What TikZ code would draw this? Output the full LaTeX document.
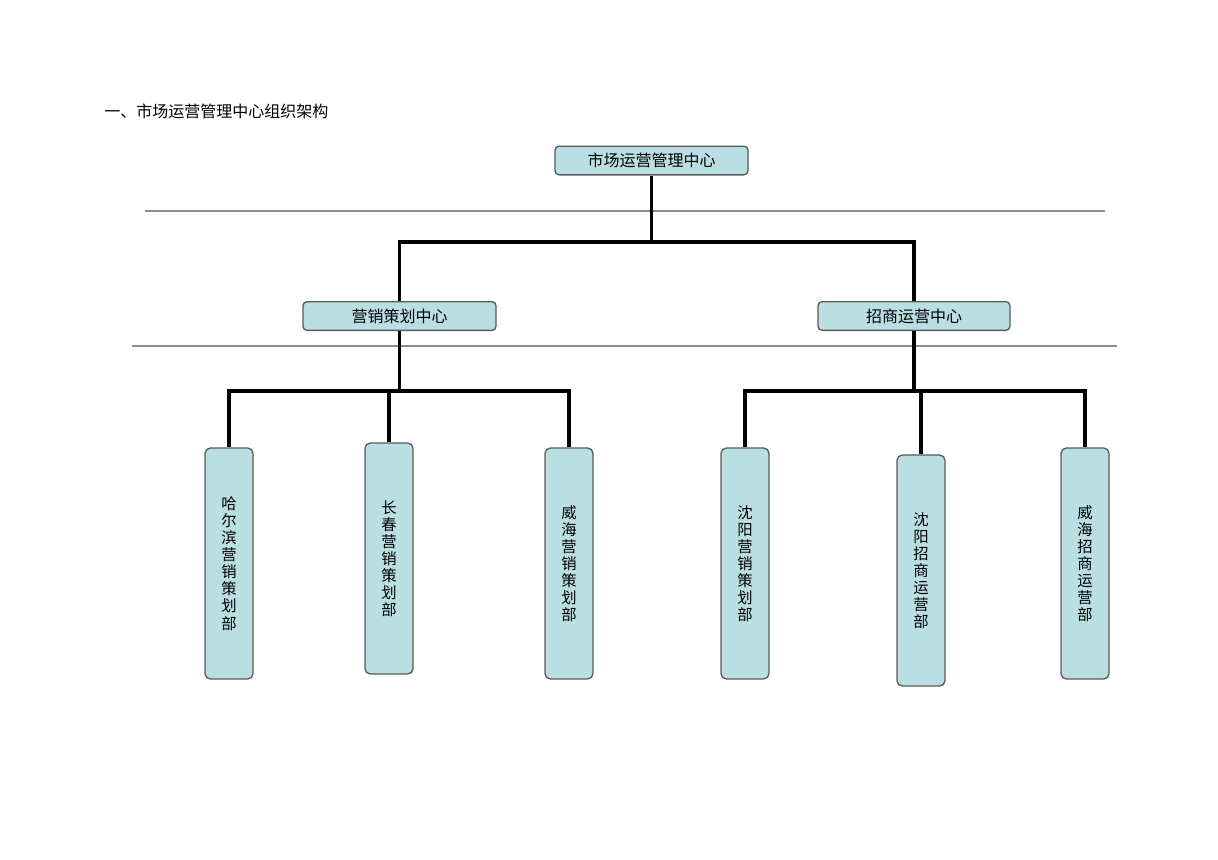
\documentclass[tikz,border=0pt]{standalone}
\usepackage{fontspec}
\setmainfont{Noto Sans CJK SC}
\definecolor{boxfill}{HTML}{BADFE2}
\definecolor{boxline}{HTML}{5A5A5A}
\definecolor{sepline}{HTML}{8C8C8C}
\begin{document}
\begin{tikzpicture}[x=0.75pt,y=-0.75pt,
  hbox/.style={draw=boxline,line width=1pt,fill=boxfill,rounded corners=3pt,
    minimum height=21.5pt,inner sep=0pt,font=\fontsize{12}{13}\selectfont},
  vbox/.style={draw=boxline,line width=1pt,fill=boxfill,rounded corners=4pt,
    minimum width=36pt,minimum height=173.25pt,inner sep=0pt,align=center,
    font=\fontsize{11.5}{12.8}\selectfont},
  conn/.style={line width=2.4pt,black},
  sep/.style={line width=0.8pt,sepline}]
\useasboundingbox (0,0) rectangle (1218,860);
\node[anchor=west,inner sep=0pt,font=\fontsize{12}{13}\selectfont] (title) at (104,111) {一、市场运营管理中心组织架构};
\draw[sep] (145,211) -- (1105,211);
\draw[sep] (132,346) -- (1117,346);
\node[hbox,minimum width=144.75pt] (top) at (651.5,160.5) {市场运营管理中心};
\node[hbox,minimum width=144.75pt] (c1) at (399.5,316) {营销策划中心};
\node[hbox,minimum width=144pt] (c2) at (914,316) {招商运营中心};
\node[vbox] (d1) at (229,563.5) {哈\\尔\\滨\\营\\销\\策\\划\\部};
\node[vbox] (d2) at (389,558.5) {长\\春\\营\\销\\策\\划\\部};
\node[vbox] (d3) at (569,563.5) {威\\海\\营\\销\\策\\划\\部};
\node[vbox] (d4) at (745,563.5) {沈\\阳\\营\\销\\策\\划\\部};
\node[vbox] (d5) at (921,570.5) {沈\\阳\\招\\商\\运\\营\\部};
\node[vbox] (d6) at (1085,563.5) {威\\海\\招\\商\\运\\营\\部};
\coordinate (j1) at (651.5,242);
\coordinate (j2) at (399.5,391);
\coordinate (j3) at (914,391);
\draw[conn] (top.south) -- (j1);
\draw[conn] (c1.north) |- (j1) -| (c2.north);
\draw[conn] (c1.south) -- (j2);
\draw[conn] (d1.north) |- (j2) -| (d3.north);
\draw[conn] (d2.north) -- (d2.north |- j2);
\draw[conn] (c2.south) -- (j3);
\draw[conn] (d4.north) |- (j3) -| (d6.north);
\draw[conn] (d5.north) -- (d5.north |- j3);
\end{tikzpicture}
\end{document}
